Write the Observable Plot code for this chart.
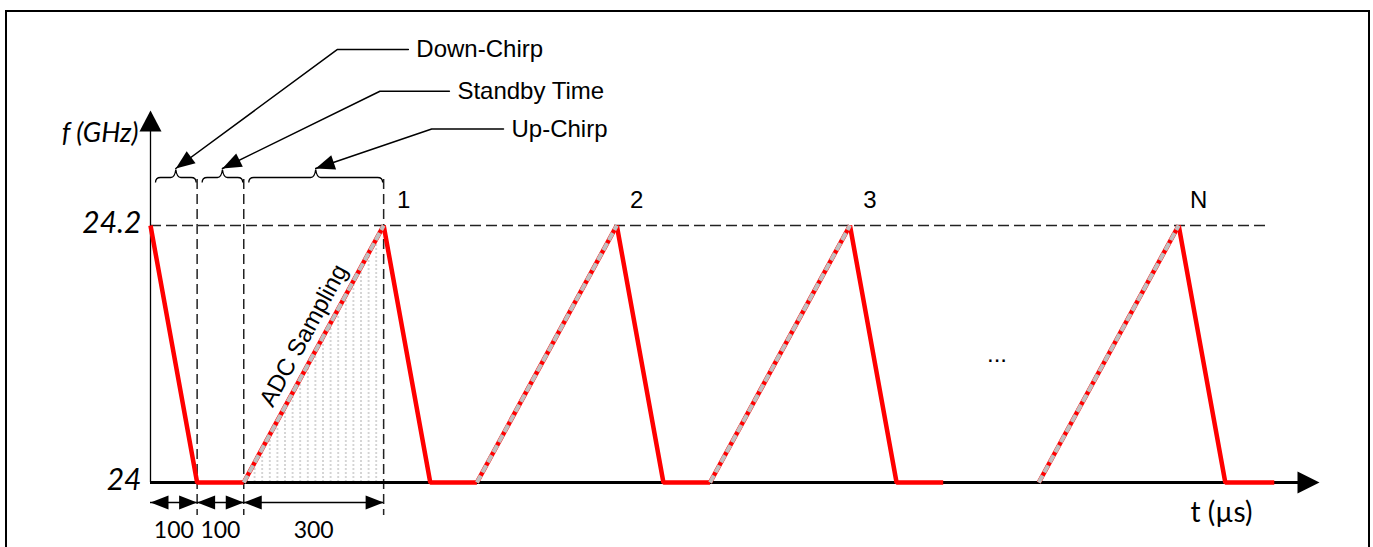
<!DOCTYPE html>
<html><head><meta charset="utf-8">
<script src="https://cdn.jsdelivr.net/npm/d3@7"></script>
<script src="https://cdn.jsdelivr.net/npm/@observablehq/plot@0.6"></script>
<style>
html,body{margin:0;padding:0;background:#fff;overflow:hidden;}
#wrap{position:relative;width:1373px;height:547px;}
#chart svg{position:absolute;left:0;top:0;}
#border{position:absolute;left:5px;top:10px;width:1365px;height:600px;border:2.5px solid #000;border-bottom:none;box-sizing:border-box;pointer-events:none;}
</style></head>
<body><div id="wrap"><div id="chart"></div><div id="border"></div></div>
<script>
// ---- data (µs, GHz) ----
const fLow = 24, fHigh = 24.2;
const yTickValues = [24, 24.2];
const yTickLabels = ["24", "24.2"];
const downStartTimes = [0, 500, 1000, 1500, 2205];
const downEndTimes = [100, 600, 1100, 1600, 2305];
const standbyEndTimes = [200, 700, 1200, 1700, 2410];
const upStartTimes = [200, 700, 1200, 1905];
const upEndTimes = [500, 1000, 1500, 2205];
const chirpLabels = ["1", "2", "3", "N"];
const phaseNames = ["Down-Chirp", "Standby Time", "Up-Chirp"];
const phaseStart = [0, 100, 200];
const phaseEnd = [100, 200, 500];
const phaseDurations = ["100", "100", "300"];
const leaderElbowT = [401, 492, 603];
const leaderEndT = [553, 641, 757];
const leaderF = [24.337, 24.3045, 24.2751];
const xAxisLabel = "t (µs)";
const yAxisLabel = "f (GHz)";
const adcLabel = "ADC Sampling";
const gapLabel = "...";
const tMax = 2507, fMaxAxis = 24.2895, refLineEnd = 2393;

// ---- layout ----
const W = 1373, H = 547, ML = 150, MR = 54, MT = 110, MB = 65;
const kx = (W - ML - MR) / tMax;
const ky = (H - MT - MB) / (fMaxAxis - fLow);
const T = px => px / kx, F = px => px / ky;

function arrowHead(angle, L, hw) {
  return {draw(ctx) {
    const c = Math.cos(angle), s = Math.sin(angle);
    const bx = -L * c, by = -L * s;
    ctx.moveTo(0, 0);
    ctx.lineTo(bx - s * hw, by + c * hw);
    ctx.lineTo(bx + s * hw, by - c * hw);
    ctx.closePath();
  }};
}
function brace(w) {
  return {draw(ctx) {
    const h = w / 2;
    ctx.moveTo(-h, 5);
    ctx.quadraticCurveTo(-h, 0, -h + 5, 0);
    ctx.lineTo(-5, 0);
    ctx.quadraticCurveTo(-1, 0, 0, -8);
    ctx.quadraticCurveTo(1, 0, 5, 0);
    ctx.lineTo(h - 5, 0);
    ctx.quadraticCurveTo(h, 0, h, 5);
  }};
}

const solidRows = downStartTimes.flatMap((t0, i) => [
  {t: t0, f: fHigh, seg: i}, {t: downEndTimes[i], f: fLow, seg: i}, {t: standbyEndTimes[i], f: fLow, seg: i}]);
const upRows = upStartTimes.flatMap((t0, i) => [
  {t: t0, f: fLow, seg: i}, {t: upEndTimes[i], f: fHigh, seg: i}]);
const adcRows = upRows.filter(d => d.seg === 0);

const braceF = fHigh + F(48);
const tipF = fHigh + F(57);
const dimF = fLow - F(20);
const phases = phaseNames.map((name, i) => ({
  name, a: phaseStart[i], b: phaseEnd[i], mid: (phaseStart[i] + phaseEnd[i]) / 2,
  dur: phaseDurations[i], tipT: (phaseStart[i] + phaseEnd[i]) / 2 + T(2),
  elbowT: leaderElbowT[i], endT: leaderEndT[i], lf: leaderF[i]
}));
const leaderRows = phases.flatMap(p => [
  {name: p.name, t: p.tipT, f: tipF}, {name: p.name, t: p.elbowT, f: p.lf}, {name: p.name, t: p.endT, f: p.lf}]);

const arial = "Liberation Sans, Arial, sans-serif";
const calibri = "Lato, Open Sans, sans-serif";

const marks = [
  Plot.areaY(adcRows, {x: "t", y1: () => fLow, y2: "f", fill: "url(#adcHatch)"}),
  Plot.ruleY([fHigh], {x1: 0, x2: refLineEnd, stroke: "#222", strokeWidth: 1.4, strokeDasharray: "11,5"}),
  Plot.ruleX(phaseEnd, {y1: fHigh + F(46), y2: fLow - F(33), stroke: "#222", strokeWidth: 1.5, strokeDasharray: "10,5"}),
  // axes
  Plot.ruleX([0], {y1: fLow, y2: fMaxAxis - F(18), stroke: "#000", strokeWidth: 1.3}),
  Plot.dot([0], {x: d => d, y: () => fMaxAxis, symbol: arrowHead(-Math.PI / 2, 21, 11), fill: "#000", stroke: "none"}),
  Plot.ruleY([fLow], {x1: 0, x2: tMax - T(20), stroke: "#000", strokeWidth: 3}),
  Plot.dot([tMax], {x: d => d, y: () => fLow, symbol: arrowHead(0, 22, 11), fill: "#000", stroke: "none"}),
  // chirp signal
  Plot.line(solidRows, {x: "t", y: "f", z: "seg", stroke: "#ff0000", strokeWidth: 4.5, strokeLinejoin: "miter", strokeLinecap: "butt"}),
  Plot.line(upRows, {x: "t", y: "f", z: "seg", stroke: "#ff0000", strokeWidth: 4.6, strokeLinecap: "butt"}),
  Plot.line(upRows, {x: "t", y: "f", z: "seg", stroke: "#c0c0c0", strokeWidth: 4, strokeDasharray: "8,3.5", strokeLinecap: "butt"}),
  // braces
  ...phases.map(p => Plot.dot([p], {x: d => d.mid + T(2), y: () => braceF, symbol: brace((p.b - p.a) * kx - 6), fill: "none", stroke: "#000", strokeWidth: 1.3})),
  // leaders
  Plot.line(leaderRows, {x: "t", y: "f", z: "name", stroke: "#000", strokeWidth: 1.5, strokeLinejoin: "miter"}),
  ...phases.map(p => {
    const ang = Math.atan2(-(tipF - p.lf) * ky, (p.tipT - p.elbowT) * kx);
    return Plot.dot([p], {x: "tipT", y: () => tipF, symbol: arrowHead(ang, 19, 7.5), fill: "#000", stroke: "none"});
  }),
  Plot.text(phases, {x: "endT", y: "lf", text: "name", dx: 8, textAnchor: "start", fontSize: 24, fontFamily: arial}),
  // dimension arrows
  Plot.ruleY(phases, {x1: "a", x2: "b", y: () => dimF, stroke: "#000", strokeWidth: 1.3}),
  Plot.dot(phases, {x: "a", y: () => dimF, symbol: arrowHead(Math.PI, 18, 7), fill: "#000", stroke: "none"}),
  Plot.dot(phases, {x: "b", y: () => dimF, symbol: arrowHead(0, 18, 7), fill: "#000", stroke: "none"}),
  Plot.text(phases, {x: "mid", y: () => dimF, text: "dur", dy: 28, fontSize: 23, fontFamily: calibri}),
  // labels
  Plot.text(yTickValues, {x: () => 0, y: d => d, text: (d, i) => yTickLabels[i], textAnchor: "end", dx: -9, dy: -2, fontSize: 30, fontStyle: "italic", fontFamily: calibri}),
  Plot.text([yAxisLabel], {x: () => 0, y: () => fMaxAxis, dx: -12, dy: 23, textAnchor: "end", fontSize: 27, fontStyle: "italic", fontFamily: calibri}),
  Plot.text([xAxisLabel], {x: () => tMax, y: () => fLow, dx: -98, dy: 31, fontSize: 28, fontFamily: calibri}),
  Plot.text(chirpLabels, {x: (d, i) => upEndTimes[i], y: () => fHigh, dx: 20, dy: -25, fontSize: 24, fontFamily: arial}),
  Plot.text([adcLabel], {x: () => (upStartTimes[0] + upEndTimes[0]) / 2, y: () => (fLow + fHigh) / 2, dx: -10, dy: -18.5,
    rotate: -Math.atan2((fHigh - fLow) * ky, (upEndTimes[0] - upStartTimes[0]) * kx) * 180 / Math.PI, fontSize: 24, fontFamily: arial}),
  Plot.text([gapLabel], {x: () => (standbyEndTimes[3] + upStartTimes[3]) / 2, y: () => (fLow + fHigh) / 2, dx: 6, dy: 0, fontSize: 24, fontFamily: arial})
];

const plot = Plot.plot({
  width: W, height: H, marginLeft: ML, marginRight: MR, marginTop: MT, marginBottom: MB,
  x: {domain: [0, tMax], axis: null},
  y: {domain: [fLow, fMaxAxis], axis: null},
  style: {background: "white", overflow: "visible"},
  marks
});
const defs = d3.select(plot).insert("defs", ":first-child");
const pat = defs.append("pattern").attr("id", "adcHatch").attr("patternUnits", "userSpaceOnUse")
  .attr("width", 7.6).attr("height", 4);
pat.append("line").attr("x1", 3.8).attr("x2", 3.8).attr("y1", 0).attr("y2", 2)
  .attr("stroke", "#b4b4b4").attr("stroke-width", 1.1);
document.getElementById("chart").appendChild(plot);
</script>
</body></html>
